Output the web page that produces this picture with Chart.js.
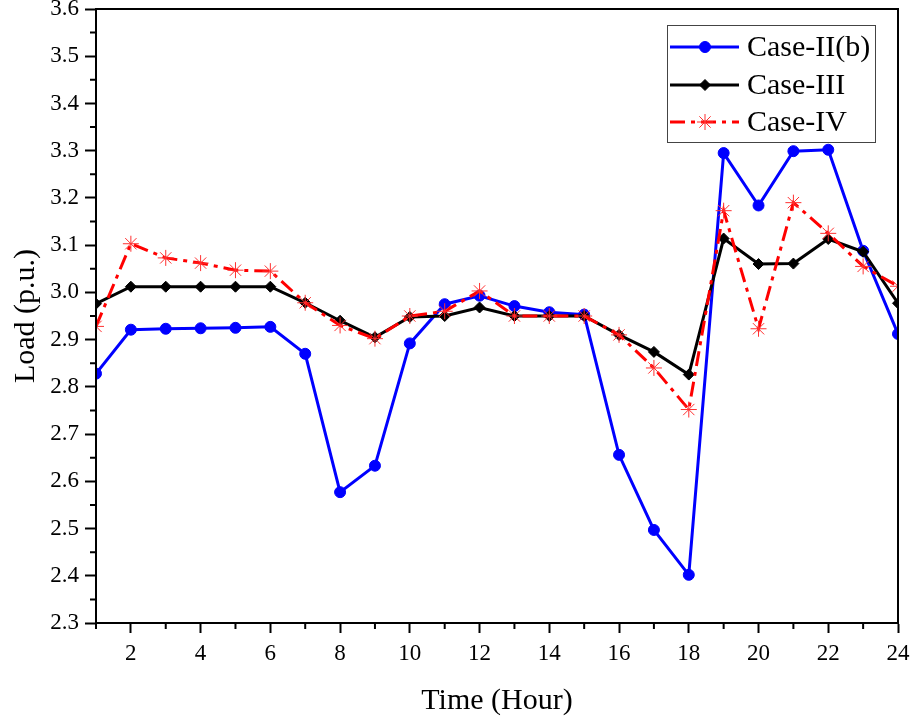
<!DOCTYPE html>
<html lang="en">
<head>
<meta charset="UTF-8">
<title>Load profile</title>
<script src="https://cdn.jsdelivr.net/npm/chart.js"></script>
<style>
  html, body { margin: 0; padding: 0; background: #fff; }
  #wrap { width: 915px; height: 723px; }
</style>
</head>
<body>
<div id="wrap"><canvas id="loadChart" width="915" height="723"></canvas></div>
<script>
const hours = [1,2,3,4,5,6,7,8,9,10,11,12,13,14,15,16,17,18,19,20,21,22,23,24];
const caseIIb = [2.828,2.921,2.923,2.924,2.925,2.927,2.870,2.577,2.633,2.892,2.975,2.993,2.971,2.958,2.953,2.656,2.497,2.402,3.295,3.184,3.299,3.302,3.088,2.912];
const caseIII = [2.976,3.012,3.012,3.012,3.012,3.012,2.978,2.940,2.905,2.948,2.950,2.968,2.950,2.950,2.950,2.910,2.874,2.826,3.114,3.060,3.061,3.113,3.086,2.977];
const caseIV  = [2.928,3.103,3.073,3.062,3.047,3.045,2.978,2.930,2.902,2.950,2.960,3.003,2.950,2.950,2.950,2.910,2.840,2.752,3.173,2.923,3.190,3.125,3.055,3.013];
const xMajor = [2,4,6,8,10,12,14,16,18,20,22,24];

const FONT = '"Liberation Serif", "Times New Roman", serif';

function pts(arr) { return hours.map((h, i) => ({ x: h, y: arr[i] })); }

// frame, minor ticks and legend drawn on top
const framePlugin = {
  id: 'frame',
  afterDraw(chart) {
    const ctx = chart.ctx;
    const a = chart.chartArea;
    const xs = chart.scales.x, ys = chart.scales.y;
    ctx.save();
    ctx.strokeStyle = '#000';
    ctx.lineWidth = 2;
    ctx.beginPath();
    ctx.moveTo(a.left, a.bottom); ctx.lineTo(a.left, a.top);
    ctx.lineTo(a.right, a.top); ctx.lineTo(a.right, a.bottom);
    ctx.lineTo(a.left, a.bottom);
    ctx.stroke();
    // minor ticks
    ctx.beginPath();
    for (let h = 1; h < 24; h += 2) {
      const px = xs.getPixelForValue(h);
      ctx.moveTo(px, a.bottom); ctx.lineTo(px, a.bottom + 6);
    }
    for (let v = 2.35; v < 3.6; v += 0.1) {
      const py = ys.getPixelForValue(v);
      ctx.moveTo(a.left, py); ctx.lineTo(a.left - 6, py);
    }
    ctx.stroke();

    // legend
    const lx = 667, ly = 25, lw = 208, lh = 117;
    ctx.fillStyle = '#fff';
    ctx.fillRect(lx, ly, lw, lh);
    ctx.strokeStyle = '#444';
    ctx.lineWidth = 1;
    ctx.strokeRect(lx + 0.5, ly + 0.5, lw, lh);
    const rows = [47, 85, 122];
    chart.data.datasets.forEach((ds, i) => {
      const y = rows[i];
      ctx.strokeStyle = ds.borderColor;
      ctx.lineWidth = ds.borderWidth;
      ctx.setLineDash(ds.borderDash || []);
      ctx.beginPath();
      ctx.moveTo(670, y); ctx.lineTo(739, y);
      ctx.stroke();
      ctx.setLineDash([]);
      ctx.fillStyle = ds.pointBackgroundColor;
      ctx.strokeStyle = ds.pointBorderColor;
      ctx.lineWidth = ds.pointBorderWidth;
      Chart.helpers.drawPoint(ctx, {
        pointStyle: ds.pointStyle, radius: ds.pointRadius,
        borderWidth: ds.pointBorderWidth, rotation: 0
      }, 705, y);
      ctx.fillStyle = '#000';
      ctx.font = '30px ' + FONT;
      ctx.textBaseline = 'middle';
      ctx.fillText(ds.label, 747, y + 1);
    });
    ctx.restore();
  }
};

new Chart(document.getElementById('loadChart'), {
  type: 'line',
  data: {
    datasets: [
      { label: 'Case-II(b)', data: pts(caseIIb), borderColor: '#0000ff', backgroundColor: '#0000ff',
        borderWidth: 3, pointStyle: 'circle', pointRadius: 5.5, pointBackgroundColor: '#0000ff',
        pointBorderColor: '#0000ff', pointBorderWidth: 1, order: 3 },
      { label: 'Case-III', data: pts(caseIII), borderColor: '#000000', backgroundColor: '#000000',
        borderWidth: 3, pointStyle: 'rectRot', pointRadius: 5.5, pointBackgroundColor: '#000000',
        pointBorderColor: '#000000', pointBorderWidth: 1, order: 2 },
      { label: 'Case-IV', data: pts(caseIV), borderColor: '#ff0000', backgroundColor: '#ff3030',
        borderWidth: 3, borderDash: [15, 6, 4, 6], pointStyle: 'star', pointRadius: 8,
        pointBackgroundColor: '#ff3030', pointBorderColor: '#ff3030', pointBorderWidth: 1, order: 1 }
    ]
  },
  options: {
    responsive: false,
    animation: false,
    devicePixelRatio: 1,
    layout: { padding: { top: 9, right: 17, left: 0, bottom: 0 } },
    plugins: { legend: { display: false }, tooltip: { enabled: false } },
    scales: {
      x: {
        type: 'linear', min: 1, max: 24,
        afterBuildTicks: s => { s.ticks = xMajor.map(v => ({ value: v })); },
        afterFit: s => { s.height = 100; s.paddingLeft = 0; s.paddingRight = 0; },
        grid: { display: true, drawOnChartArea: false, drawTicks: true, tickLength: 10, tickWidth: 2, tickColor: '#000' },
        border: { display: true, color: '#000', width: 2 },
        ticks: { color: '#000', font: { family: FONT, size: 23 }, padding: 7, maxRotation: 0 },
        title: { display: true, text: 'Time (Hour)', color: '#000', font: { family: FONT, size: 30 }, padding: { top: 0, bottom: 4 } }
      },
      y: {
        min: 2.3, max: 3.6,
        afterFit: s => { s.width = 96; s.paddingTop = 0; s.paddingBottom = 0; },
        grid: { display: true, drawOnChartArea: false, drawTicks: true, tickLength: 11, tickWidth: 2, tickColor: '#000' },
        border: { display: true, color: '#000', width: 2 },
        ticks: { stepSize: 0.1, color: '#000', font: { family: FONT, size: 23 }, padding: 6,
                 callback: v => v.toFixed(1) },
        title: { display: true, text: 'Load (p.u.)', color: '#000', font: { family: FONT, size: 30 }, padding: { top: 8, bottom: 0 } }
      }
    }
  },
  plugins: [framePlugin]
});
</script>
</body>
</html>
